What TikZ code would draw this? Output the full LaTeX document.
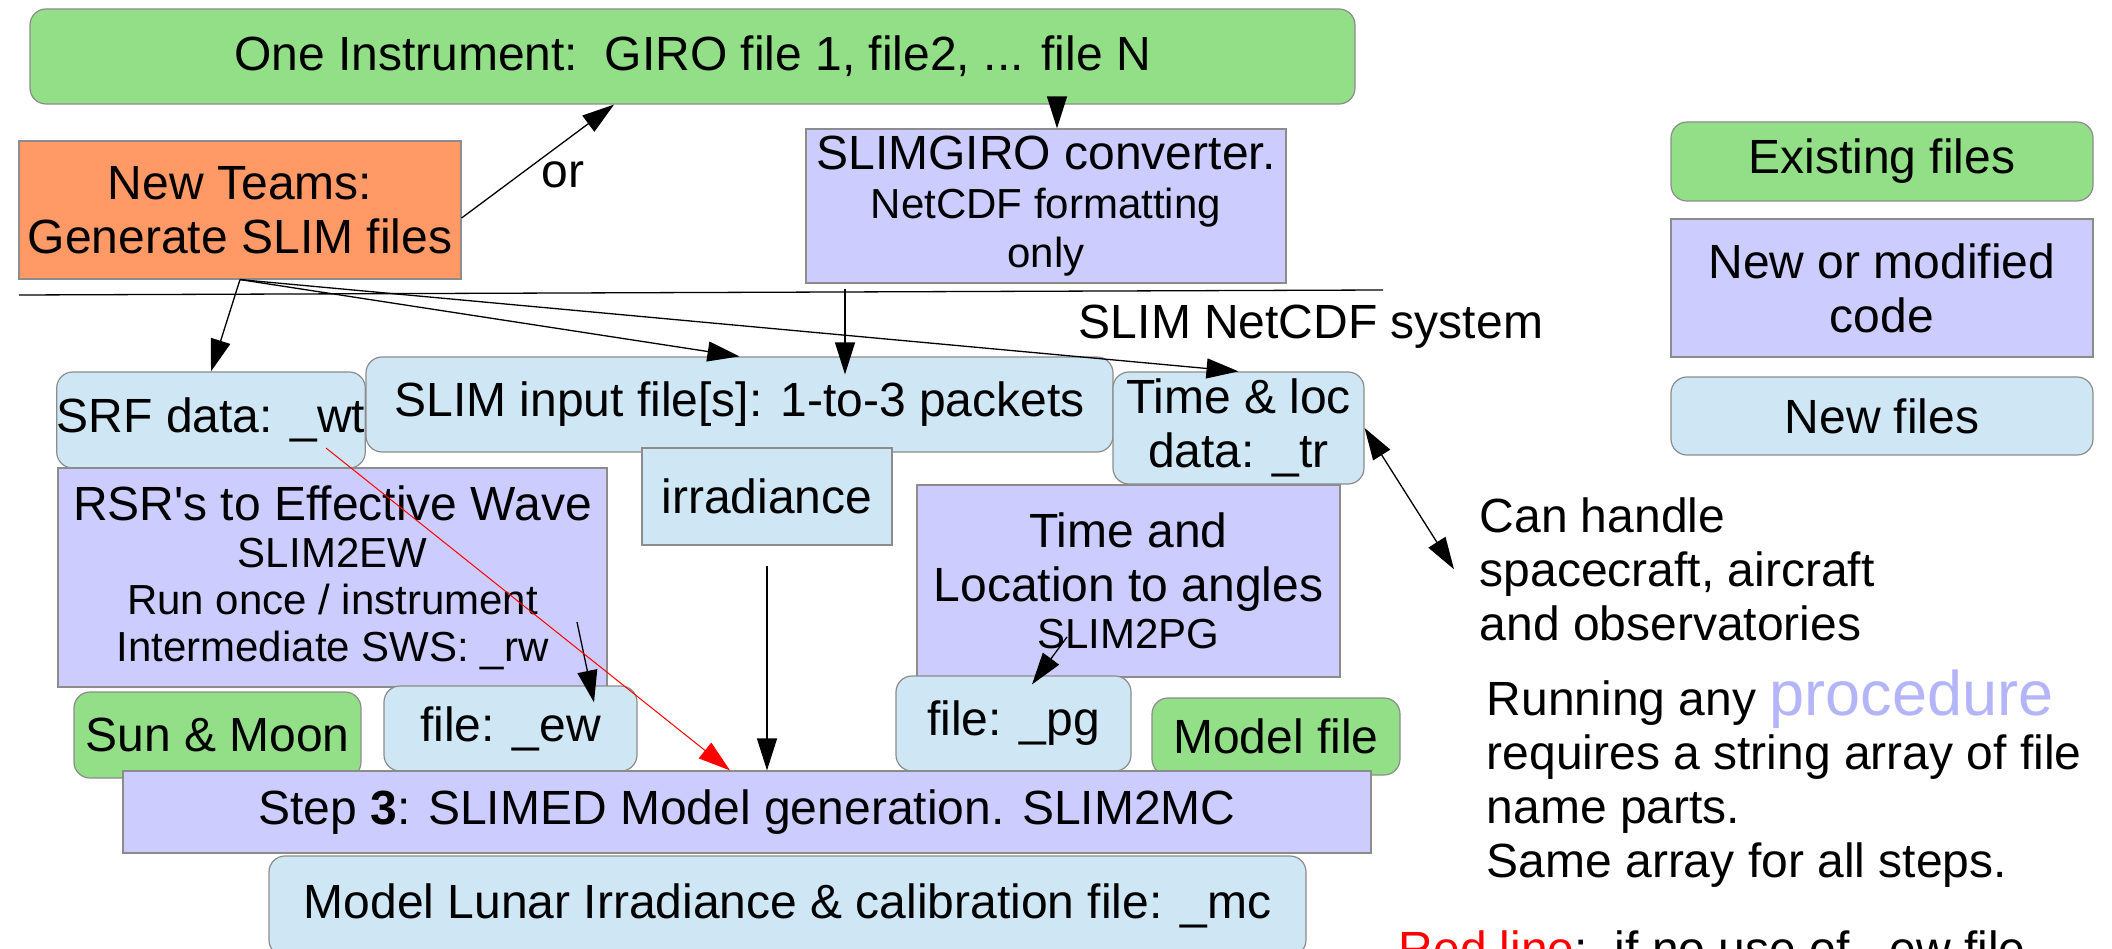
\documentclass[tikz,border=0pt]{standalone}
\usepackage{fontspec}
\setmainfont{Liberation Sans}
\usepackage{xcolor}
\usetikzlibrary{arrows.meta, positioning}

\definecolor{oldgreen}{RGB}{147,223,135}
\definecolor{codeblue}{RGB}{204,204,255}
\definecolor{fileblue}{RGB}{207,231,245}
\definecolor{teamorange}{RGB}{255,153,102}
\definecolor{rimgray}{RGB}{140,140,140}
\definecolor{procblue}{RGB}{180,180,248}
\newcommand{\bigtxt}{\fontsize{48}{54}\selectfont}
\newcommand{\smalltxt}{\fontsize{42}{47}\selectfont}

\begin{document}
\begin{tikzpicture}[x=1pt, y=-1pt, ->, >={Stealth[length=32pt, width=20pt, inset=0pt]}, line width=1.3pt,
    box/.style={-, draw=rimgray, line width=1.2pt, inner sep=0pt, align=center, font=\bigtxt},
    oldbox/.style={box, fill=oldgreen, rounded corners=16pt},
    codebox/.style={box, fill=codeblue},
    filebox/.style={box, fill=fileblue, rounded corners=16pt},
    teambox/.style={box, fill=teamorange},
    txt/.style={inner sep=0pt, font=\bigtxt}]
    \useasboundingbox (0,0) rectangle (2112,949);
    \clip (0,0) rectangle (2112,949);

    \node[oldbox, minimum width=1325pt, minimum height=95pt] (giro) at (692.5,56.5) {One Instrument:\ \ GIRO file 1, file2, ... file N};
    \node[teambox, minimum width=442pt, minimum height=138pt] (teams) at (240,210) {New Teams:\\Generate SLIM files};
    \node[codebox, minimum width=480pt, minimum height=154pt] (conv) at (1046,206) {SLIMGIRO converter.\\[-5pt]{\smalltxt NetCDF formatting}\\[-5pt]{\smalltxt only}};
    \node[txt] (or) at (563,175) {or};
    \draw[-] (19,295) -- (1383,290);
    \node[txt] (sys) at (1311,327) {SLIM NetCDF system};

    \node[filebox, minimum width=306pt, minimum height=96pt] (srf) at (211,420) {SRF data: \_wt};
    \node[filebox, minimum width=747pt, minimum height=95pt] (input) at (739.5,404.5) {SLIM input file[s]: 1-to-3 packets};
    \node[filebox, minimum width=251pt, minimum height=112pt] (tr) at (1238.5,428) {Time \& loc\\data: \_tr};
    \node[codebox, minimum width=549pt, minimum height=219pt] (rsr) at (332.5,577.5) {RSR\textquotesingle s to Effective Wave\\[-7pt]{\smalltxt SLIM2EW}\\[-7pt]{\smalltxt Run once / instrument}\\[-7pt]{\smalltxt Intermediate SWS: \_rw}};
    \node[filebox, rounded corners=0pt, minimum width=250pt, minimum height=97pt] (irr) at (767,496.5) {irradiance};
    \node[codebox, minimum width=423pt, minimum height=192pt] (pg2) at (1128.5,581) {Time and\\Location to angles\\[-7pt]{\smalltxt SLIM2PG}};
    \node[oldbox, minimum width=287pt, minimum height=86pt] (sun) at (217.5,735) {Sun \& Moon};
    \node[filebox, minimum width=253pt, minimum height=85pt] (ewfile) at (510.5,728.5) {file: \_ew};
    \node[filebox, minimum width=235pt, minimum height=95pt] (pgfile) at (1013.5,723.5) {file: \_pg};
    \node[oldbox, minimum width=248pt, minimum height=77pt] (model) at (1276,736.5) {Model file};
    \node[codebox, minimum width=1248pt, minimum height=82pt] (step3) at (747,812) {Step \textbf{3}: SLIMED Model generation. SLIM2MC};
    \node[filebox, minimum width=1037pt, minimum height=100pt] (mc) at (787.5,906) {Model Lunar Irradiance \& calibration file: \_mc};

    % legend
    \node[oldbox, minimum width=422pt, minimum height=79pt] (exist) at (1882,161.5) {Existing files};
    \node[codebox, minimum width=422pt, minimum height=138pt] (modif) at (1882,288) {New or modified\\code};
    \node[filebox, minimum width=422pt, minimum height=78pt] (newf) at (1882,416) {New files};

    \node[txt, align=left, anchor=north west] (can) at (1479,497) {Can handle\\spacecraft, aircraft\\and observatories};
    \node[txt, align=left, anchor=north west] (run) at (1486,669) {Running any {\color{procblue}\fontsize{63}{55}\selectfont procedure}\\requires a string array of file\\name parts.\\Same array for all steps.};
    \node[txt, anchor=north west] (redl) at (1398,930) {{\color{red}Red line}:\ \ if no use of \_ew file};

    \draw ([yshift=-8pt]teams.east) -- ([xshift=-78.5pt]giro.south);
    \draw ([xshift=364.5pt]giro.south) -- ([xshift=11pt]conv.north);
    \draw (teams.south) -- (srf.north);
    \draw (teams.south) -- (input.north);
    \draw (teams.south) -- (tr.north);
    \draw ([xshift=-201pt,yshift=-5pt]conv.south) -- ([xshift=105.5pt,yshift=-18pt]input.north);
    \draw ([yshift=-20pt]irr.south) -- (irr.south |- step3.north);
    \draw ([xshift=244.5pt,yshift=-44.5pt]rsr.center) -- ([xshift=83.5pt,yshift=-17pt]ewfile.north);
    \draw ([xshift=-61.5pt,yshift=-56pt]pg2.center) -- ([xshift=18.5pt,yshift=-9pt]pgfile.north);
    \draw[red, line width=1pt] ([xshift=115pt,yshift=-28pt]srf.center) -- ([xshift=-17pt]step3.north);
    \draw[<->] (tr.east) -- ([xshift=-25pt]can.west);
\end{tikzpicture}
\end{document}
